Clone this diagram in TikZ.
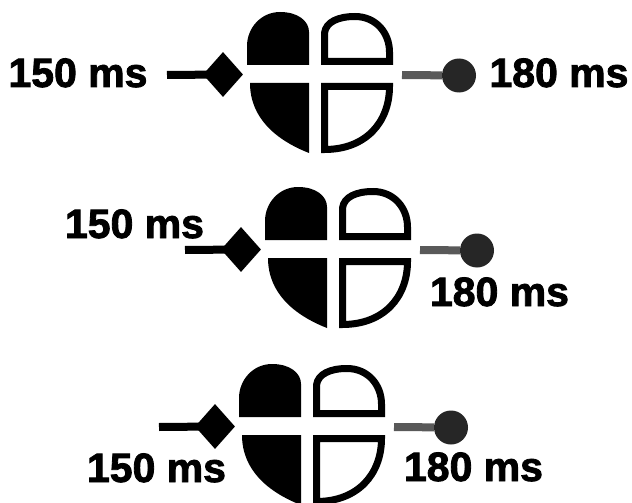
\documentclass[tikz,border=0pt]{standalone}
\usepackage{fontspec}
\setmainfont{Liberation Sans}[BoldFeatures={FakeBold=2}]
\usetikzlibrary{shapes.geometric}
\begin{document}
\begin{tikzpicture}[x=1pt,y=-1pt,
  lbl/.style={font=\fontsize{41}{41}\selectfont\bfseries, inner sep=0pt, anchor=base},
  tipmark/.style={diamond, fill=black, inner sep=0pt, minimum width=40pt, minimum height=45pt},
  knob/.style={circle, fill=black!85, inner sep=0pt, minimum size=34pt},
  stem/.style={line width=8pt},
  solidpart/.style={fill=black},
  openpart/.style={draw=black, line width=7pt, line join=miter},
  marker/.pic={
    % left half: two filled quarters
    \path[solidpart] (309,65) -- (247,65) -- (247,46)
      .. controls (247,28) and (261,12) .. (280,12)
      .. controls (298,12) and (309,21) .. (309,32) -- cycle;
    \path[solidpart] (250,83) -- (309,83) -- (309,153)
      .. controls (276,140) and (250,118) .. (250,83) -- cycle;
    % right half: two outlined quarters
    \path[openpart] (324.5,61.5) -- (324.5,33)
      .. controls (326,22) and (338,16.5) .. (355,16.5)
      .. controls (376,16.5) and (389.5,33) .. (389.5,52) -- (389.5,61.5) -- cycle;
    \path[openpart] (324.5,86.5) -- (389.5,86.5)
      .. controls (389.5,122) and (366,149.5) .. (324.5,149.5) -- cycle;
    % diamond and knob with their stems
    \node[tipmark] (-d) at (223,74.5) {};
    \node[knob] (-c) at (459,75.5) {};
    \coordinate (-ds) at (167,75);
    \coordinate (-cs) at (402,75);
    \draw[stem] (-ds) -- (-d.center);
    \draw[stem, black!65] (-cs) -- (-c);
  }]
\useasboundingbox (0,0) rectangle (632,503);
\clip (0,0) rectangle (632,503);

\pic (m1) at (0,0) {marker};
\pic (m2) at (18,175) {marker};
\pic (m3) at (-8,352) {marker};

\node[lbl] (a1) at (78,87) {150 ms};
\node[lbl] (b1) at (559,87) {180 ms};
\node[lbl] (a2) at (134.5,238) {150 ms};
\node[lbl] (b2) at (499.5,306) {180 ms};
\node[lbl] (a3) at (156.5,482) {150 ms};
\node[lbl] (b3) at (473.5,481) {180 ms};
\end{tikzpicture}
\end{document}
